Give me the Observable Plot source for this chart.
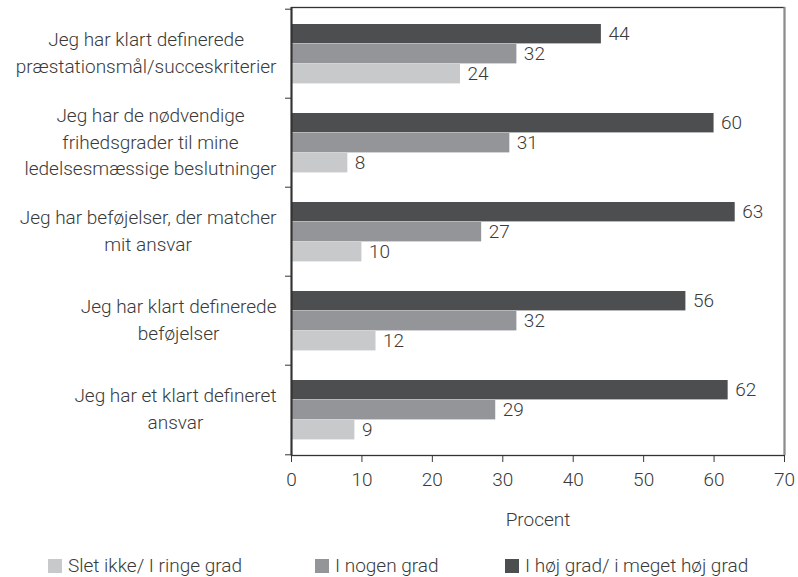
<!DOCTYPE html>
<html><head><meta charset="utf-8">
<script src="https://cdn.jsdelivr.net/npm/d3@7"></script>
<script src="https://cdn.jsdelivr.net/npm/@observablehq/plot@0.6"></script>
<style>
body{margin:0;background:#fff;font-family:Roboto, sans-serif;font-weight:300;}
#wrap{position:relative;width:798px;}
.legend{position:relative;height:42px;font-size:19px;color:#3a3a3a}
.item{position:absolute;top:19px;display:flex;align-items:center;white-space:nowrap}
.sw{width:14px;height:14px;margin-right:6px}
svg text{font-weight:300;}
</style></head><body><div id="wrap"></div>
<script>
const categories = [
  "Jeg har klart definerede\npræstationsmål/succeskriterier",
  "Jeg har de nødvendige\nfrihedsgrader til mine\nledelsesmæssige beslutninger",
  "Jeg har beføjelser, der matcher\nmit ansvar",
  "Jeg har klart definerede\nbeføjelser",
  "Jeg har et klart defineret\nansvar"
];
const seriesNames = ["I høj grad/ i meget høj grad", "I nogen grad", "Slet ikke/ I ringe grad"];
const highValues = [44, 60, 63, 56, 62];
const someValues = [32, 31, 27, 32, 29];
const lowValues  = [24, 8, 10, 12, 9];
const xTicks = [0, 10, 20, 30, 40, 50, 60, 70];
const colors = ["#4d4e50", "#939598", "#c8c9cb"];
const legendOrder = [2, 1, 0];

const seriesValues = [highValues, someValues, lowValues];
const rows = categories.flatMap((c, i) => seriesValues.map((vals, s) => ({cat: c, series: s, value: vals[i]})));

const FONT = "300 19px Roboto";
const ctx = document.createElement("canvas").getContext("2d");
ctx.font = FONT;
const blockWidth = c => Math.max(...c.split("\n").map(l => ctx.measureText(l).width));

const band = 89.6, barH = 20, barTop = 15;
const marks = [];
seriesValues.forEach((_, s) => {
  const data = rows.filter(d => d.series === s);
  marks.push(Plot.barX(data, {x: "value", y: "cat", fill: colors[s],
    insetTop: barTop + barH * s, insetBottom: band - barTop - barH * (s + 1)}));
  marks.push(Plot.text(data, {x: "value", y: "cat", text: d => String(d.value), dx: 7,
    dy: -barH + barH * s, textAnchor: "start", fill: "#3a3a3a"}));
});
categories.forEach(c => {
  marks.push(Plot.text([c], {frameAnchor: "left", y: d => d, text: d => d, textAnchor: "middle",
    dx: -(15 + blockWidth(c) / 2), dy: -3, lineHeight: 1.4, fill: "#3a3a3a"}));
});
marks.push(Plot.ruleY(categories, {y: d => d, x1: 0, x2: 0, dy: -band / 2, insetLeft: -6, stroke: "#333"}));
marks.push(Plot.ruleY([categories[categories.length - 1]], {y: d => d, x1: 0, x2: 0, dy: band / 2, insetLeft: -6, stroke: "#333"}));
marks.push(Plot.frame({stroke: "#333", strokeWidth: 1.3}));
marks.push(Plot.ruleX([xTicks[xTicks.length - 1]], {stroke: "#8c8c8c", strokeWidth: 2}));
marks.push(Plot.ruleX([0], {stroke: "#333", strokeWidth: 2}));
marks.push(Plot.text(["Procent"], {frameAnchor: "bottom", text: d => d, dy: 70, fill: "#3a3a3a"}));

const chart = Plot.plot({
  width: 798, height: 535,
  marginLeft: 291, marginRight: 14, marginTop: 7, marginBottom: 80,
  x: {domain: [0, 70], ticks: xTicks, tickSize: 7, tickPadding: 10, label: null},
  y: {domain: categories, axis: null, padding: 0},
  style: {fontSize: "19px", fontFamily: "Roboto", fontWeight: 300, color: "#3a3a3a", background: "#fff"},
  marks
});
const wrap = document.getElementById("wrap");
wrap.appendChild(chart);

const legendX = [48, 315, 505];
const legend = document.createElement("div");
legend.className = "legend";
legendOrder.forEach((s, k) => {
  const item = document.createElement("div");
  item.className = "item";
  item.style.left = legendX[k] + "px";
  const sw = document.createElement("span");
  sw.className = "sw";
  sw.style.background = colors[s];
  const t = document.createElement("span");
  t.textContent = seriesNames[s];
  item.appendChild(sw); item.appendChild(t);
  legend.appendChild(item);
});
wrap.appendChild(legend);
</script></body></html>
